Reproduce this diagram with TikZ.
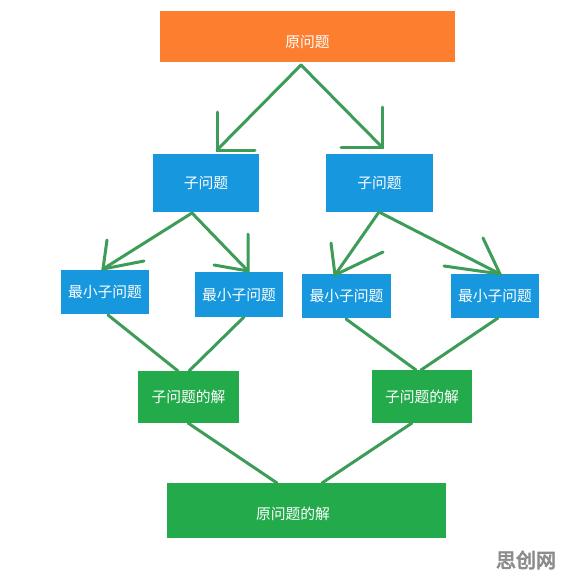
\documentclass[tikz,border=0pt]{standalone}
\usepackage{fontspec}
\newfontfamily\cjk{Noto Sans CJK SC}
\newfontfamily\wmfont[FakeBold=4]{Noto Sans CJK SC}
\definecolor{orangebox}{HTML}{FD7E2E}
\definecolor{bluebox}{HTML}{1798DE}
\definecolor{greenbox}{HTML}{22AA4B}
\definecolor{linkgreen}{HTML}{3C9C58}
\definecolor{wmgray}{HTML}{8C8C8C}
\begin{document}
\begin{tikzpicture}[x=1pt,y=-1pt,
  box/.style={draw=none,inner sep=0pt,minimum width=#1,anchor=center},
  obox/.style={box=295pt,fill=orangebox,minimum height=51pt},
  bbox/.style={box=#1,fill=bluebox},
  gbox/.style={box=#1,fill=greenbox},
  lbl/.style={text=white,font=\cjk\fontsize{14.8}{16}\selectfont},
  link/.style={draw=linkgreen,line width=3pt,line cap=round}]
\useasboundingbox (0,0) rectangle (564,579);
% boxes
\node[obox] (top) at (307.5,36.5) {};
\node[lbl] (toptext) at (307.5,42) {原问题};
\node[bbox=106pt,minimum height=58pt,lbl] (c1) at (206,183) {子问题};
\node[bbox=107pt,minimum height=58pt,lbl] (c2) at (379.5,183) {子问题};
\node[bbox=88pt,minimum height=44pt,lbl] (l1) at (105,292) {最小子问题};
\node[bbox=88pt,minimum height=45pt,lbl] (l2) at (239,294.5) {最小子问题};
\node[bbox=89pt,minimum height=44pt,lbl] (l3) at (346.5,296) {最小子问题};
\node[bbox=88pt,minimum height=44pt,lbl] (l4) at (495,296) {最小子问题};
\node[gbox=101pt,minimum height=52pt,lbl] (s1) at (188.5,397) {子问题的解};
\node[gbox=100pt,minimum height=53pt,lbl] (s2) at (422,396.5) {子问题的解};
\node[gbox=279pt,minimum height=55pt] (fin) at (306.5,510.5) {};
\node[lbl] (fintext) at (293,514) {原问题的解};
\node[text=wmgray,font=\wmfont\fontsize{20}{22}\selectfont] (wm) at (526,560) {思创网};
% arrow points
\coordinate (a0) at (301,65);
\coordinate (a1) at (217,150); \coordinate (a1u) at (217,112); \coordinate (a1r) at (255,150);
\coordinate (a2) at (382,147); \coordinate (a2u) at (382,107); \coordinate (a2l) at (341,147);
\coordinate (b0) at (192,213);
\coordinate (b1) at (103,269); \coordinate (b1u) at (107,240); \coordinate (b1r) at (144,261);
\coordinate (b2) at (248,271); \coordinate (b2u) at (248,234); \coordinate (b2l) at (214,265);
\coordinate (d0) at (379,212);
\coordinate (d1) at (335,275); \coordinate (d1u) at (331,243); \coordinate (d1r) at (383,252);
\coordinate (d2) at (500,274); \coordinate (d2u) at (483,238); \coordinate (d2l) at (444,266);
% arrows
\draw[link] (a0) -- (a1); \draw[link] (a1u) -- (a1) -- (a1r);
\draw[link] (a0) -- (a2); \draw[link] (a2u) -- (a2) -- (a2l);
\draw[link] (b0) -- (b1); \draw[link] (b1u) -- (b1) -- (b1r);
\draw[link] (b0) -- (b2); \draw[link] (b2u) -- (b2) -- (b2l);
\draw[link] (d0) -- (d1); \draw[link] (d1u) -- (d1) -- (d1r);
\draw[link] (d0) -- (d2); \draw[link] (d2u) -- (d2) -- (d2l);
% merging lines
\coordinate (e1) at (108,315); \coordinate (e2) at (244,317);
\coordinate (e3) at (346,319); \coordinate (e4) at (498,318);
\coordinate (f1) at (178,371); \coordinate (f2) at (189,371);
\coordinate (f3) at (416,370); \coordinate (f4) at (421,370);
\draw[link] (e1) -- (f1); \draw[link] (e2) -- (f2);
\draw[link] (e3) -- (f3); \draw[link] (e4) -- (f4);
\coordinate (g1) at (188,423); \coordinate (g2) at (412,423);
\coordinate (h1) at (277,483); \coordinate (h2) at (322,483);
\draw[link] (g1) -- (h1); \draw[link] (g2) -- (h2);
\end{tikzpicture}
\end{document}
